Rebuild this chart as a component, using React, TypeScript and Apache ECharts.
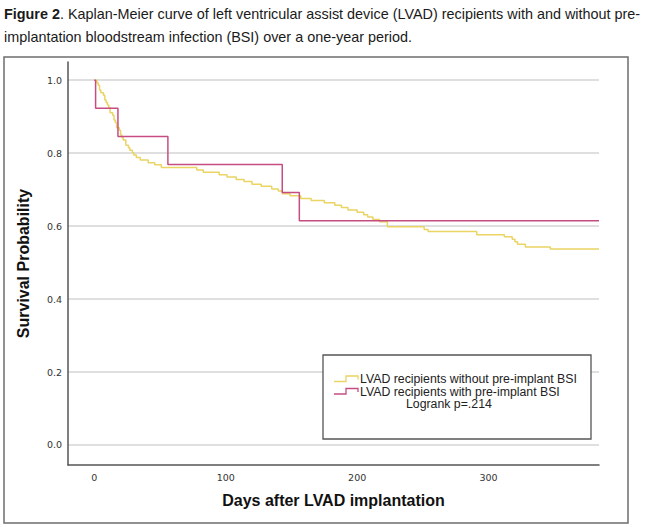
import React, { useEffect, useRef } from "react";
import * as echarts from "echarts";

// Kaplan-Meier estimates: day of each event and survival after it
const withoutBsiDays = [0, 2, 3, 4, 5, 7, 8, 9, 10, 11, 12, 14, 15, 16, 17, 19, 20, 21, 22, 24, 26, 27, 29, 30, 32, 35, 41, 46, 51, 78, 83, 95, 101, 108, 114, 120, 127, 135, 140, 143, 149, 157, 165, 175, 183, 188, 193, 200, 205, 208, 212, 217, 223, 251, 254, 291, 312, 318, 320, 322, 328, 347, 384];
const withoutBsiSurvival = [1.0, 0.993, 0.986, 0.973, 0.966, 0.959, 0.946, 0.939, 0.932, 0.925, 0.911, 0.904, 0.891, 0.884, 0.87, 0.863, 0.85, 0.843, 0.836, 0.822, 0.815, 0.808, 0.801, 0.795, 0.788, 0.781, 0.774, 0.768, 0.761, 0.754, 0.748, 0.741, 0.735, 0.728, 0.722, 0.715, 0.709, 0.702, 0.696, 0.689, 0.683, 0.676, 0.67, 0.664, 0.657, 0.651, 0.644, 0.638, 0.631, 0.625, 0.618, 0.612, 0.598, 0.591, 0.585, 0.576, 0.571, 0.564, 0.557, 0.55, 0.543, 0.537, 0.537];

const withBsiDays = [0, 1, 18, 56, 143, 156, 384];
const withBsiSurvival = [1.0, 0.923, 0.846, 0.769, 0.692, 0.615, 0.615];

const seriesNames = [
  "LVAD recipients without pre-implant BSI",
  "LVAD recipients with pre-implant BSI",
];
const logrankText = "Logrank p=.214";

const xTickStep = 100;
const yTickStep = 0.2;

const YELLOW = "#ead463";
const PINK = "#c64d82";

const pairs = (xs: number[], ys: number[]) => xs.map((x, i) => [x, ys[i]]);

const isMultiple = (v: number, step: number) =>
  Math.abs(v / step - Math.round(v / step)) < 1e-6;

export default function App() {
  const ref = useRef<HTMLDivElement>(null);

  useEffect(() => {
    if (!ref.current) return;
    const chart = echarts.init(ref.current, null, { renderer: "svg" });

    const legendLine = (y: number) => [
      [334, y + 2.5],
      [346, y + 2.5],
      [346, y - 3],
      [358, y - 3],
      [358, y + 0.5],
    ];

    const legendText = (text: string, x: number, y: number) => ({
      type: "text",
      x,
      y,
      style: {
        text,
        fontFamily: "Liberation Sans",
        fontSize: 12.3,
        fill: "#222",
        verticalAlign: "middle",
      },
      z: 101,
    });

    chart.setOption({
      animation: false,
      backgroundColor: "#ffffff",
      grid: { left: 68, right: 51, top: 62, bottom: 62, containLabel: false },
      xAxis: {
        type: "value",
        min: -20,
        max: 384,
        splitNumber: 4,
        name: "Days after LVAD implantation",
        nameLocation: "middle",
        nameGap: 27,
        nameTextStyle: {
          fontFamily: "Liberation Sans",
          fontWeight: "bold",
          fontSize: 16,
          color: "#111",
        },
        axisLine: { show: true, onZero: false, lineStyle: { color: "#555", width: 1.5 } },
        axisTick: { show: false },
        splitLine: { show: false },
        axisLabel: {
          showMinLabel: false,
          showMaxLabel: false,
          margin: 7,
          fontFamily: "DejaVu Sans",
          fontSize: 9.5,
          color: "#333",
          formatter: (v: number) => (isMultiple(v, xTickStep) ? String(v) : ""),
        },
      },
      yAxis: {
        type: "value",
        min: -0.055,
        max: 1.05,
        splitNumber: 5,
        name: "Survival Probability",
        nameLocation: "middle",
        nameGap: 37,
        nameTextStyle: {
          fontFamily: "Liberation Sans",
          fontWeight: "bold",
          fontSize: 16,
          color: "#111",
        },
        axisLine: { show: true, onZero: false, lineStyle: { color: "#555", width: 1.5 } },
        axisTick: { show: false },
        splitLine: {
          show: true,
          showMinLine: false,
          showMaxLine: false,
          lineStyle: { color: "#d4d4d4", width: 1.5 },
        },
        axisLabel: {
          showMinLabel: false,
          showMaxLabel: false,
          margin: 6,
          fontFamily: "DejaVu Sans",
          fontSize: 9.5,
          color: "#333",
          formatter: (v: number) => (isMultiple(v, yTickStep) ? v.toFixed(1) : ""),
        },
      },
      series: [
        {
          name: seriesNames[0],
          type: "line",
          step: "end",
          showSymbol: false,
          data: pairs(withoutBsiDays, withoutBsiSurvival),
          lineStyle: { color: YELLOW, width: 1.5 },
          itemStyle: { color: YELLOW },
          z: 3,
        },
        {
          name: seriesNames[1],
          type: "line",
          step: "end",
          showSymbol: false,
          data: pairs(withBsiDays, withBsiSurvival),
          lineStyle: { color: PINK, width: 1.5 },
          itemStyle: { color: PINK },
          z: 4,
        },
      ],
      graphic: [
        {
          type: "text",
          left: 4,
          top: 2,
          style: {
            text:
              "{b|Figure 2}. Kaplan-Meier curve of left ventricular assist device (LVAD) recipients with and without pre-\nimplantation bloodstream infection (BSI) over a one-year period.",
            fontFamily: "Liberation Sans",
            fontSize: 14.4,
            lineHeight: 23,
            fill: "#1a1a1a",
            rich: {
              b: { fontWeight: "bold", fontFamily: "Liberation Sans", fontSize: 14.4, lineHeight: 23 },
            },
          },
        },
        {
          type: "rect",
          shape: { x: 4, y: 57, width: 624, height: 466 },
          style: { fill: "none", stroke: "#6e6e6e", lineWidth: 1.5 },
          z: 100,
        },
        {
          type: "rect",
          shape: { x: 323, y: 355, width: 268, height: 84 },
          style: { fill: "#ffffff", stroke: "#555", lineWidth: 1.3 },
          z: 100,
        },
        {
          type: "polyline",
          shape: { points: legendLine(379) },
          style: { stroke: YELLOW, lineWidth: 1.3, fill: "none" },
          z: 101,
        },
        {
          type: "polyline",
          shape: { points: legendLine(391.5) },
          style: { stroke: PINK, lineWidth: 1.3, fill: "none" },
          z: 101,
        },
        legendText(seriesNames[0], 360, 379),
        legendText(seriesNames[1], 360, 391.5),
        legendText(logrankText, 406, 404),
      ],
    });

    return () => chart.dispose();
  }, []);

  return (
    <div
      ref={ref}
      style={{ position: "absolute", left: 0, top: 0, width: 650, height: 527 }}
    />
  );
}
